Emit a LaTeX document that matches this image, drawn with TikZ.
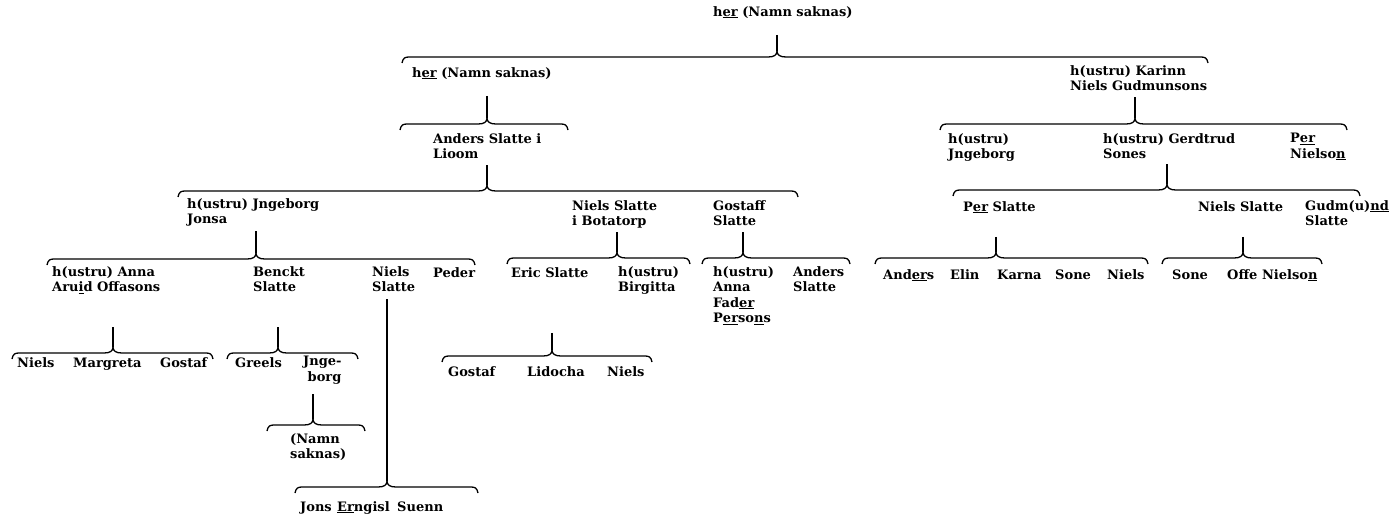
\documentclass[tikz,border=0pt]{standalone}
\usepackage{fontspec}
\setmainfont{DejaVu Serif}
\usepackage{tikz}
\usetikzlibrary{positioning}

% #1 parent, #2 cusp x, #3 bracket y, #4 left end, #5 right end, #6 gap under parent
\newcommand{\kin}[6]{%
  \coordinate (#1-cusp) at (#2,#3-6);
  \draw [brace] (#4,#3+6) .. controls (#4+1,#3+1) and (#4+3,#3) .. (#4+7,#3)
    -- (#2-9,#3) .. controls (#2-3,#3) and (#2,#3-2) .. (#1-cusp)
    .. controls (#2,#3-2) and (#2+3,#3) .. (#2+9,#3)
    -- (#5-7,#3) .. controls (#5-3,#3) and (#5-1,#3+1) .. (#5,#3+6);
  \draw [brace] ([yshift=-#6pt]#1.south -| #1-cusp) -- (#1-cusp);
}

\begin{document}
\begin{tikzpicture}[x=1pt, y=-1pt,
    person/.style={anchor=north west, inner sep=0pt, align=left,
      font=\fontsize{13}{15.5}\selectfont\bfseries,
      execute at begin node=\strut, execute at end node=\strut},
    brace/.style={draw=black, line width=1.3pt}]
    \useasboundingbox (0,0) rectangle (1400,516);

    \node [person] (root) at (713,5) {h\underline{er} (Namn saknas)};

    \node [person] (herA) at (412,66) {h\underline{er} (Namn saknas)};
    \node [person] (karinn) at (1070,65) {h(ustru) Karinn\\Niels Gudmunsons};

    \node [person] (anders) at (433,133) {Anders Slatte i\\Lioom};

    \node [person] (jngeborg) at (187,198) {h(ustru) Jngeborg\\Jonsa};
    \node [person] (nielsB) at (572,200) {Niels Slatte\\i Botatorp};
    \node [person] (gostaff) at (713,200) {Gostaff\\Slatte};

    \node [person] (anna) at (52,266) {h(ustru) Anna\\Aru\underline{i}d Offasons};
    \node [person] (benckt) at (253,266) {Benckt\\Slatte};
    \node [person] (nielsS) at (372,266) {Niels\\Slatte};
    \node [person] (peder) at (433,266) {Peder};

    \node [person] (niels1) at (17,356) {Niels};
    \node [person] (margreta) at (73,356) {Margreta};
    \node [person] (gostaf1) at (160,356) {Gostaf};
    \node [person] (greels) at (235,356) {Greels};
    \node [person] (jnge) at (303,356) {Jnge-\\\ borg};
    \node [person] (namn) at (290,433) {(Namn\\saknas)};
    \node [person] (jons) at (300,500) {Jons};
    \node [person] (erngisl) at (337,500) {\underline{Er}ngisl};
    \node [person] (suenn) at (397,500) {Suenn};

    \node [person] (eric) at (511,266) {Eric Slatte};
    \node [person] (birgitta) at (618,266) {h(ustru)\\Birgitta};
    \node [person] (gostaf2) at (448,365) {Gostaf};
    \node [person] (lidocha) at (527,365) {Lidocha};
    \node [person] (niels2) at (607,365) {Niels};

    \node [person] (annaF) at (713,266) {h(ustru)\\Anna\\Fad\underline{er}\\P\underline{er}so\underline{n}s};
    \node [person] (andersS) at (793,266) {Anders\\Slatte};

    \node [person] (jngeborgR) at (948,133) {h(ustru)\\Jngeborg};
    \node [person] (gerdtrud) at (1103,133) {h(ustru) Gerdtrud\\Sones};
    \node [person] (perN) at (1290,133) {P\underline{er}\\Nielso\underline{n}};

    \node [person] (perS) at (963,200) {P\underline{er} Slatte};
    \node [person] (nielsR) at (1198,200) {Niels Slatte};
    \node [person] (gudmund) at (1305,200) {Gudm(u)\underline{nd}\\Slatte};

    \node [person] (andersR) at (883,268) {And\underline{er}s};
    \node [person] (elin) at (950,268) {Elin};
    \node [person] (karna) at (997,268) {Karna};
    \node [person] (sone1) at (1055,268) {Sone};
    \node [person] (niels3) at (1107,268) {Niels};
    \node [person] (sone2) at (1172,268) {Sone};
    \node [person] (offe) at (1227,268) {Offe Nielso\underline{n}};

    \kin{root}{777}{57}{402}{1208}{14}
    \kin{herA}{487}{124}{400}{568}{14}
    \kin{anders}{487}{191}{178}{798}{2}
    \kin{jngeborg}{256}{259}{47}{475}{3}
    \kin{anna}{113}{353}{12}{213}{31}
    \kin{benckt}{278}{353}{227}{358}{31}
    \kin{jnge}{313}{425}{267}{365}{8}
    \kin{nielsS}{387}{487}{295}{478}{3}
    \kin{nielsB}{617}{258}{507}{690}{2}
    \kin{eric}{552}{356}{442}{652}{51}
    \kin{gostaff}{743}{258}{702}{850}{2}
    \kin{karinn}{1135}{124}{940}{1347}{2}
    \kin{gerdtrud}{1167}{190}{953}{1360}{1}
    \kin{perS}{996}{258}{875}{1148}{21}
    \kin{nielsR}{1243}{258}{1162}{1322}{21}
\end{tikzpicture}
\end{document}
